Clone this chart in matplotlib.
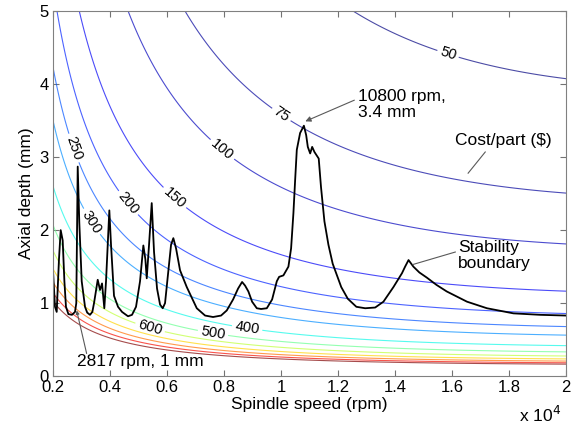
import numpy as np
import matplotlib
matplotlib.use("Agg")
import matplotlib.pyplot as plt
from matplotlib.colors import Normalize
from matplotlib.ticker import FuncFormatter

plt.rcParams['font.family'] = ['Liberation Sans', 'DejaVu Sans']

# cost/part model: fixed + (time term + tool wear term) / depth
# coefficients read off where the contours cross the picture
c_fixed = 10.0
a_time = 2.019e6
b_wear = 0.0031

levels = [50, 75, 100, 150, 200, 250, 300, 400, 500, 600, 700, 800, 900, 1000]
label_levels = [50, 75, 100, 150, 200, 250, 300, 400, 500, 600]
label_pos = [(1.586, 4.42), (1.004, 3.60), (0.797, 3.12), (0.628, 2.45),
             (0.463, 2.37), (0.270, 3.12), (0.337, 2.12), (0.881, 0.66),
             (0.761, 0.59), (0.540, 0.66)]

# stability boundary (rpm, mm)
speed_rpm = [2000, 2070, 2130, 2210, 2270, 2340, 2400, 2455, 2540, 2667, 2772,
             2817, 2867, 2923, 3007, 3123, 3200, 3298, 3380, 3439, 3569, 3649,
             3720, 3800, 3860, 3976, 4035, 4140, 4281, 4421, 4632, 4772, 4912,
             5053, 5169, 5240, 5288, 5369, 5463, 5544, 5649, 5755, 5849, 5930,
             6035, 6141, 6221, 6316, 6456, 6692, 7043, 7334, 7614, 7895, 8095,
             8316, 8492, 8632, 8737, 8853, 8983, 9148, 9299, 9499, 9685, 9850,
             9931, 10081, 10257, 10351, 10432, 10492, 10551, 10667, 10800,
             10880, 10937, 11020, 11090, 11170, 11320, 11400, 11520, 11660,
             11810, 12110, 12340, 12640, 12950, 13300, 13590, 13940, 14240,
             14350, 14470, 14640, 14850, 15110, 15450, 15810, 16520, 17220,
             18150, 19090, 20000]
depth_mm = [1.45, 0.95, 0.88, 1.6, 2.0, 1.86, 1.3, 0.95, 0.85, 0.84, 0.88,
            1.0, 2.87, 2.1, 1.3, 0.95, 0.87, 0.84, 0.88, 1.0, 1.32, 1.18,
            1.27, 0.93, 1.3, 2.27, 1.8, 1.1, 0.95, 0.88, 0.82, 0.84, 0.95,
            1.3, 1.79, 1.6, 1.34, 1.8, 2.37, 1.7, 1.2, 0.98, 0.93, 1.0,
            1.4, 1.8, 1.89, 1.75, 1.45, 1.22, 0.93, 0.83, 0.81, 0.83, 0.90,
            1.05, 1.2, 1.29, 1.24, 1.16, 1.02, 0.93, 0.92, 0.93, 1.05, 1.30,
            1.36, 1.38, 1.50, 1.75, 2.23, 2.68, 3.10, 3.33, 3.43,
            3.3, 3.14, 3.05, 3.14, 3.07, 2.98, 2.59, 2.12, 1.8,
            1.54, 1.22, 1.06, 0.95, 0.93, 0.94, 1.02, 1.22, 1.41,
            1.5, 1.59, 1.50, 1.42, 1.35, 1.25, 1.16, 1.02, 0.93,
            0.86, 0.84, 0.83]

n = np.linspace(2000, 20000, 500)
b = np.linspace(0.03, 5.0, 600)
N, B = np.meshgrid(n, b)
cost = c_fixed + (a_time / N + b_wear * N) / B

fig, ax = plt.subplots(figsize=(5.76, 4.26), dpi=100)
fig.subplots_adjust(left=0.092, right=0.983, bottom=0.117, top=0.974)

cs = ax.contour(N / 1e4, B, cost, levels=levels, cmap='jet',
                norm=Normalize(50, 1000), linewidths=0.8, alpha=0.7)
labels = ax.clabel(cs, label_levels, manual=label_pos, inline=True,
                   inline_spacing=3, fontsize=10.5, fmt='%d', colors='k')
for t in labels:
    t.set_alpha(1.0)

ax.plot(np.array(speed_rpm) / 1e4, depth_mm, color='k', lw=1.3)

gray = '0.35'
ax.annotate('', xy=(1.085, 3.49), xytext=(1.257, 3.78),
            arrowprops=dict(arrowstyle='-|>', color=gray, lw=0.8,
                            mutation_scale=8, shrinkA=0, shrinkB=0))
ax.text(1.27, 3.93, '10800 rpm,\n3.4 mm', fontsize=12.5, va='top', ha='left',
        linespacing=1.05)

ax.plot([1.716, 1.656], [3.07, 2.78], color=gray, lw=0.8)
ax.text(1.61, 3.23, 'Cost/part ($)', fontsize=12.5, va='center', ha='left')

ax.plot([1.611, 1.463], [1.70, 1.53], color=gray, lw=0.8)
ax.text(1.621, 1.86, 'Stability\nboundary', fontsize=12.5, va='top', ha='left',
        linespacing=1.05)

ax.annotate('', xy=(0.283, 0.90), xytext=(0.318, 0.31),
            arrowprops=dict(arrowstyle='-|>', color=gray, lw=0.8,
                            mutation_scale=5, shrinkA=0, shrinkB=0))
ax.text(0.284, 0.205, '2817 rpm, 1 mm', fontsize=12.5, va='center', ha='left')

ax.set_xlim(0.2, 2.0)
ax.set_ylim(0, 5)
ax.set_xticks(np.arange(0.2, 2.01, 0.2))
ax.set_yticks(range(6))
ax.xaxis.set_major_formatter(FuncFormatter(lambda v, p: '%g' % round(v, 1)))
ax.tick_params(direction='in', length=4, top=True, right=True, labelsize=12,
               color='0.45', pad=3)
for s in ax.spines.values():
    s.set_color('0.5')
ax.set_xlabel('Spindle speed (rpm)', fontsize=12.5, labelpad=1)
ax.set_ylabel('Axial depth (mm)', fontsize=12.5, labelpad=4)
ax.text(0.99, -0.105, r'x 10$^4$', transform=ax.transAxes, ha='right',
        va='center', fontsize=12.5)

fig.savefig('out.png', dpi=100)
